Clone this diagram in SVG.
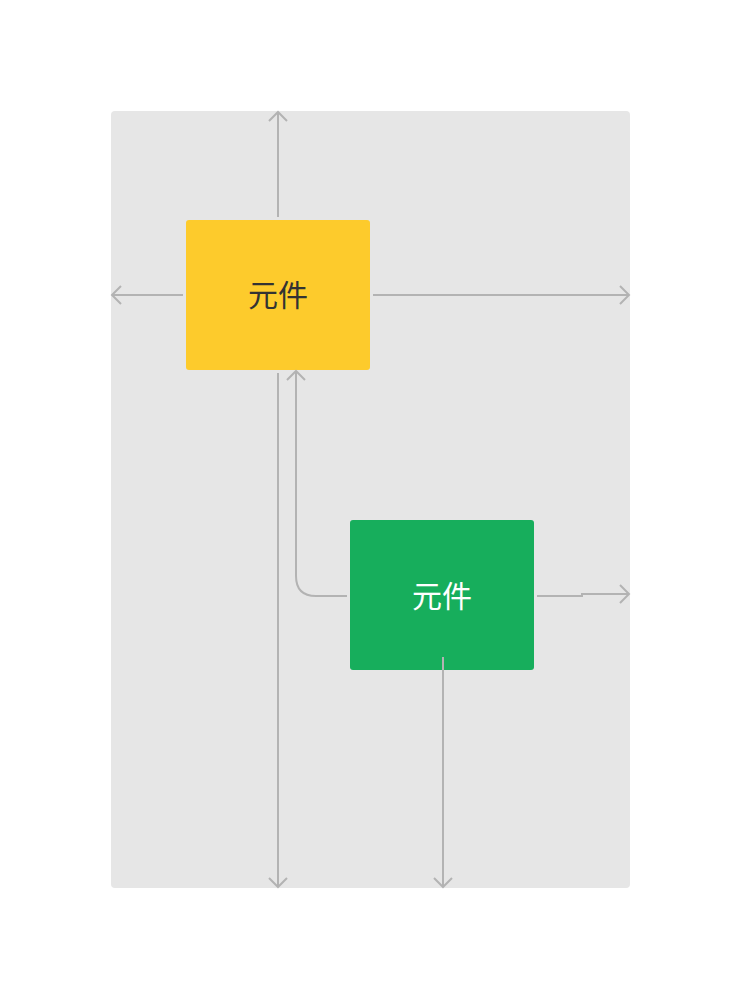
<svg xmlns="http://www.w3.org/2000/svg" width="740" height="999" viewBox="0 0 740 999">
<defs>
<marker id="a" markerWidth="20" markerHeight="20" refX="10" refY="10" orient="auto" markerUnits="userSpaceOnUse"><path d="M1,1 L10,10 L1,19" fill="none" stroke="#b3b3b3" stroke-width="2"/></marker>
<style>.c{fill:none;stroke:#b3b3b3;stroke-width:2}.t{font-family:"Noto Sans CJK SC",sans-serif;font-size:30px;text-anchor:middle}</style>
</defs>
<rect width="740" height="999" fill="#fff"/>
<rect id="bg" x="111" y="111" width="519" height="777" rx="4" fill="#e6e6e6"/>
<g id="n1"><rect x="186" y="220" width="184" height="150" rx="3" fill="#fdcb2c"/><text class="t" x="278" y="306" fill="#333">元件</text></g>
<g id="n2"><rect x="350" y="520" width="184" height="150" rx="3" fill="#17ae5c"/><text class="t" x="442" y="607" fill="#fff">元件</text></g>
<g id="connectors">
<path class="c" d="M278,217 V112" marker-end="url(#a)"/>
<path class="c" d="M183,295 H112" marker-end="url(#a)"/>
<path class="c" d="M373,295 H629" marker-end="url(#a)"/>
<path class="c" d="M278,373 V887" marker-end="url(#a)"/>
<path class="c" d="M347,596 H316 Q296,596 296,576 V371" marker-end="url(#a)"/>
<path class="c" d="M537,596 H582 V594 H629" marker-end="url(#a)"/>
<path class="c" d="M443,657 V887" marker-end="url(#a)"/>
</g>
</svg>
